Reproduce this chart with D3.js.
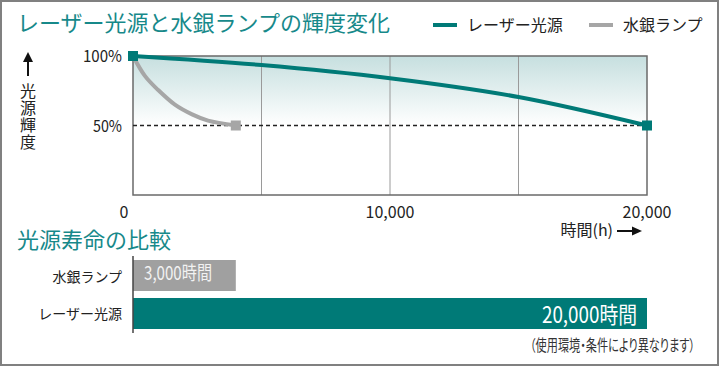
<!DOCTYPE html>
<html>
<head>
<meta charset="utf-8">
<script src="https://cdn.jsdelivr.net/npm/d3@7"></script>
<style>
  body { margin: 0; background: #fff; }
  text { font-family: "Noto Sans CJK JP", "Noto Sans", sans-serif; }
  .palt { font-feature-settings: "palt"; }
</style>
</head>
<body>
<div id="chart"></div>
<script>
// chart data
var title_text = "レーザー光源と水銀ランプの輝度変化",
    sub_title = "光源寿命の比較",
    series_names = ["レーザー光源", "水銀ランプ"];

var laser_points = [[0, 100], [5000, 93.5], [10000, 84], [15000, 70.5], [20000, 50]];
var mercury_points = [[0, 100], [470, 85.5], [980, 75.5], [1630, 65], [2300, 58], [2920, 53.5], [4000, 50]];

var x_ticks = [0, 10000, 20000],
    grid_ticks = [5000, 10000, 15000],
    y_ticks = [100, 50];

var bar_names = ["水銀ランプ", "レーザー光源"],
    bar_values = [4000, 20000],   // bar length as drawn in the picture
    bar_labels = ["3,000時間", "20,000時間"];

var note_text = "（使用環境・条件により異なります）";

var W = 720, H = 367;
var teal = "#007a77", gray = "#a6a6a6";

var svg = d3.select("#chart").append("svg")
    .attr("width", W)
    .attr("height", H);

// outer frame
svg.append("rect")
    .attr("x", 1).attr("y", 1)
    .attr("width", W - 3).attr("height", H - 3)
    .attr("fill", "none")
    .attr("stroke", "#808080")
    .attr("stroke-width", 2);

var x = d3.scaleLinear().domain([0, 20000]).range([133, 647]);
var y = d3.scaleLinear().domain([0, 100]).range([195, 56]);

// gradient above the 50% line
var defs = svg.append("defs");
var grad = defs.append("linearGradient")
    .attr("id", "fade")
    .attr("x1", 0).attr("y1", 0).attr("x2", 0).attr("y2", 1);
grad.append("stop").attr("offset", "0%").attr("stop-color", "#c6dfdf");
grad.append("stop").attr("offset", "100%").attr("stop-color", "#ffffff");

svg.append("rect")
    .attr("x", x(0)).attr("y", y(100))
    .attr("width", x(20000) - x(0))
    .attr("height", y(50) - y(100))
    .attr("fill", "url(#fade)");

// grid lines
svg.selectAll("line.grid")
    .data(grid_ticks)
  .enter().append("line")
    .attr("class", "grid")
    .attr("x1", function(d){ return x(d); })
    .attr("x2", function(d){ return x(d); })
    .attr("y1", y(100)).attr("y2", y(0))
    .attr("stroke", "#9a9a9a")
    .attr("stroke-width", 1);

// plot frame
svg.append("rect")
    .attr("x", x(0)).attr("y", y(100))
    .attr("width", x(20000) - x(0))
    .attr("height", y(0) - y(100))
    .attr("fill", "none")
    .attr("stroke", "#6a6a6a")
    .attr("stroke-width", 1.5);

// 50% dashed line
svg.append("line")
    .attr("x1", x(0)).attr("x2", x(20000))
    .attr("y1", y(50)).attr("y2", y(50))
    .attr("stroke", "#222")
    .attr("stroke-width", 1.5)
    .attr("stroke-dasharray", "4,3");

// y tick labels
svg.selectAll("text.ytick")
    .data(y_ticks)
  .enter().append("text")
    .attr("class", "ytick")
    .attr("x", 122)
    .attr("y", function(d){ return y(d) + 6; })
    .attr("text-anchor", "end")
    .attr("font-size", 16)
    .attr("fill", "#222")
    .attr("textLength", function(d){ return d === 100 ? 39 : 29; })
    .attr("lengthAdjust", "spacingAndGlyphs")
    .text(function(d){ return d + "%"; });

// x tick labels
svg.selectAll("text.xtick")
    .data(x_ticks)
  .enter().append("text")
    .attr("class", "xtick")
    .attr("x", function(d){ return d === 0 ? x(d) - 9 : x(d); })
    .attr("y", 218)
    .attr("text-anchor", "middle")
    .attr("font-size", 16)
    .attr("fill", "#222")
    .text(function(d){ return d3.format(",")(d); });

// curves
var line = d3.line()
    .x(function(d){ return x(d[0]); })
    .y(function(d){ return y(d[1]); })
    .curve(d3.curveCatmullRom);

svg.append("path")
    .attr("d", line(mercury_points))
    .attr("fill", "none")
    .attr("stroke", gray)
    .attr("stroke-width", 4);

svg.append("path")
    .attr("d", line(laser_points))
    .attr("fill", "none")
    .attr("stroke", teal)
    .attr("stroke-width", 4);

// end markers
var marks = [
  {p: mercury_points[mercury_points.length - 1], c: gray},
  {p: laser_points[0], c: teal},
  {p: laser_points[laser_points.length - 1], c: teal}
];
svg.selectAll("rect.mark")
    .data(marks)
  .enter().append("rect")
    .attr("class", "mark")
    .attr("x", function(d){ return x(d.p[0]) - 5; })
    .attr("y", function(d){ return y(d.p[1]) - 5; })
    .attr("width", 10).attr("height", 10)
    .attr("fill", function(d){ return d.c; });

// title
svg.append("text")
    .attr("x", 17).attr("y", 31)
    .attr("font-size", 22)
    .attr("fill", "#17898a")
    .text(title_text);

// legend
var legend_x = [433, 589];
var lg = svg.selectAll("g.legend")
    .data(series_names)
  .enter().append("g")
    .attr("class", "legend")
    .attr("transform", function(d, i){ return "translate(" + legend_x[i] + ",0)"; });
lg.append("line")
    .attr("x1", 0).attr("x2", 24)
    .attr("y1", 25).attr("y2", 25)
    .attr("stroke", function(d, i){ return i === 0 ? teal : gray; })
    .attr("stroke-width", 4);
lg.append("text")
    .attr("x", 34).attr("y", 31)
    .attr("font-size", 16)
    .attr("fill", "#222")
    .text(function(d){ return d; });

// y axis label with arrow
svg.append("line")
    .attr("x1", 28).attr("x2", 28)
    .attr("y1", 60).attr("y2", 76)
    .attr("stroke", "#111")
    .attr("stroke-width", 2);
svg.append("path")
    .attr("d", "M23,62 L28,52 L33,62 Z")
    .attr("fill", "#111");
svg.append("text")
    .attr("x", 28).attr("y", 83)
    .attr("font-size", 16)
    .attr("fill", "#222")
    .style("writing-mode", "vertical-rl")
    .style("letter-spacing", "1px")
    .text("光源輝度");

// x axis label with arrow
svg.append("text")
    .attr("class", "palt")
    .attr("x", 613).attr("y", 236)
    .attr("text-anchor", "end")
    .attr("font-size", 16)
    .attr("fill", "#222")
    .text("時間(h)");
svg.append("line")
    .attr("x1", 617).attr("x2", 634)
    .attr("y1", 231).attr("y2", 231)
    .attr("stroke", "#111")
    .attr("stroke-width", 2);
svg.append("path")
    .attr("d", "M632,226.5 L642,231 L632,235.5 Z")
    .attr("fill", "#111");

// lifetime bars
svg.append("text")
    .attr("x", 17).attr("y", 248)
    .attr("font-size", 22)
    .attr("fill", "#17898a")
    .text(sub_title);

var yb = d3.scaleBand()
    .domain(bar_names)
    .range([256.2, 332.8])
    .paddingInner(0.184)
    .paddingOuter(0.1);

svg.selectAll("rect.bar")
    .data(bar_values)
  .enter().append("rect")
    .attr("class", "bar")
    .attr("x", x(0))
    .attr("y", function(d, i){ return yb(bar_names[i]); })
    .attr("width", function(d){ return x(d) - x(0); })
    .attr("height", yb.bandwidth())
    .attr("fill", function(d, i){ return i === 0 ? "#a0a0a0" : teal; });

svg.append("line")
    .attr("x1", x(0)).attr("x2", x(0))
    .attr("y1", 256).attr("y2", 333)
    .attr("stroke", "#444")
    .attr("stroke-width", 1.5);

svg.selectAll("text.cat")
    .data(bar_names)
  .enter().append("text")
    .attr("class", "cat")
    .attr("x", 122)
    .attr("y", function(d){ return yb(d) + yb.bandwidth() / 2 + 6; })
    .attr("text-anchor", "end")
    .attr("font-size", 14)
    .attr("fill", "#222")
    .text(function(d){ return d; });

// labels inside bars
svg.append("text")
    .attr("x", x(0) + 11)
    .attr("y", yb(bar_names[0]) + 20)
    .attr("font-size", 19)
    .attr("fill", "#f2f2f2")
    .attr("textLength", 68)
    .attr("lengthAdjust", "spacingAndGlyphs")
    .text(bar_labels[0]);

svg.append("text")
    .attr("x", x(bar_values[1]) - 10)
    .attr("y", yb(bar_names[1]) + 25)
    .attr("text-anchor", "end")
    .attr("font-size", 23)
    .attr("fill", "#ffffff")
    .attr("textLength", 95)
    .attr("lengthAdjust", "spacingAndGlyphs")
    .text(bar_labels[1]);

// footnote, squeezed horizontally like the condensed original
svg.append("g")
    .attr("transform", "translate(695,351) scale(0.72,1)")
  .append("text")
    .attr("class", "palt")
    .attr("text-anchor", "end")
    .attr("font-size", 15.5)
    .attr("fill", "#333")
    .text(note_text);
</script>
</body>
</html>
